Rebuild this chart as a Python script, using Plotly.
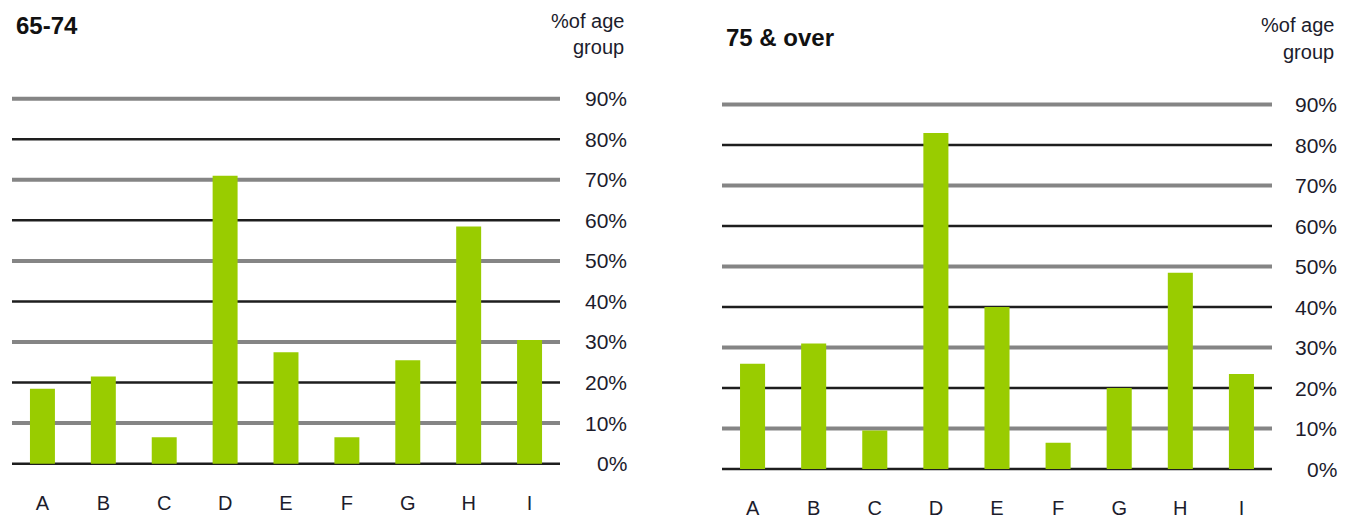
import plotly.graph_objects as go

categories = ["A", "B", "C", "D", "E", "F", "G", "H", "I"]
pct_65_74 = [18.5, 21.5, 6.5, 71, 27.5, 6.5, 25.5, 58.5, 30.5]
pct_75_over = [26, 31, 9.5, 83, 40, 6.5, 20, 48.5, 23.5]
tick_values = [0, 10, 20, 30, 40, 50, 60, 70, 80, 90]
tick_labels = ["0%", "10%", "20%", "30%", "40%", "50%", "60%", "70%", "80%", "90%"]
panel_titles = ["65-74", "75 & over"]
caption_lines = ["%of age", "group"]

W, H = 1345, 519
BAR_COLOR = "#99cc00"
TEXT_COLOR = "#1c1c2c"
FONT = "Liberation Sans Narrow, Arial Narrow, Liberation Sans, Arial, sans-serif"
PAD = 2.0  # value padding so the outer rules are not clipped

# panel geometry in pixels: (left, right, zero-line y, 90% y, label right edge)
panels = [
    dict(x0=12, x1=560, y0=470, y1=100, lab=629, title_x=14, title_y=26, cap_y=[21, 48]),
    dict(x0=722, x1=1272, y0=475.5, y1=106, lab=1339, title_x=724, title_y=38, cap_y=[25, 53]),
]

fig = go.Figure()
shapes, annotations = [], []
series = [pct_65_74, pct_75_over]

for i, (p, vals) in enumerate(zip(panels, series)):
    xa = "x" if i == 0 else "x2"
    ya = "y" if i == 0 else "y2"
    fig.add_trace(go.Bar(
        x=categories, y=vals, xaxis=xa, yaxis=ya,
        marker=dict(color=BAR_COLOR, line=dict(width=0)),
        width=0.41, showlegend=False, hoverinfo="x+y",
    ))
    ppu = (p["y0"] - p["y1"]) / 90.0
    bottom_px = p["y0"] + PAD * ppu
    top_px = p["y1"] - PAD * ppu
    xd = [p["x0"] / W, p["x1"] / W]
    yd = [1 - bottom_px / H, 1 - top_px / H]
    axkey = "xaxis" if i == 0 else "xaxis2"
    aykey = "yaxis" if i == 0 else "yaxis2"
    fig.layout[axkey] = dict(
        domain=xd, anchor=ya, range=[-0.5, 8.5], showgrid=False, zeroline=False,
        showline=False, ticks="", tickfont=dict(family=FONT, size=20, color=TEXT_COLOR),
        ticklabelstandoff=17,
    )
    fig.layout[aykey] = dict(
        domain=yd, anchor=xa, range=[-PAD, 90 + PAD], showgrid=False, zeroline=False,
        showline=False, showticklabels=False, ticks="",
    )
    # alternating dark / grey rules across the plot
    for v in tick_values:
        dark = (v // 10) % 2 == 0
        shapes.append(dict(
            type="line", layer="below",
            xref=f"{xa} domain", yref=ya, x0=0, x1=1, y0=v, y1=v,
            line=dict(color="#1e1e1e" if dark else "#858585", width=2.5 if dark else 4),
        ))
    for v, t in zip(tick_values, tick_labels):
        annotations.append(dict(
            xref="paper", yref=ya, x=p["lab"] / W, y=v, text=t, showarrow=False,
            xanchor="right", yanchor="middle",
            font=dict(family=FONT, size=21, color=TEXT_COLOR),
        ))
    annotations.append(dict(
        xref="paper", yref="paper", x=p["title_x"] / W, y=1 - p["title_y"] / H,
        text=f"<b>{panel_titles[i]}</b>", showarrow=False, xanchor="left", yanchor="middle",
        font=dict(family=FONT, size=24, color="#111111"),
    ))
    for line, cy in zip(caption_lines, p["cap_y"]):
        annotations.append(dict(
            xref="paper", yref="paper", x=(p["lab"] - 3) / W, y=1 - cy / H,
            text=line, showarrow=False, xanchor="right", yanchor="middle",
            font=dict(family=FONT, size=20, color=TEXT_COLOR),
        ))

fig.update_layout(
    width=W, height=H, margin=dict(l=0, r=0, t=0, b=0),
    paper_bgcolor="white", plot_bgcolor="white",
    shapes=shapes, annotations=annotations, bargap=0.59,
)
fig.write_html("out.html")
